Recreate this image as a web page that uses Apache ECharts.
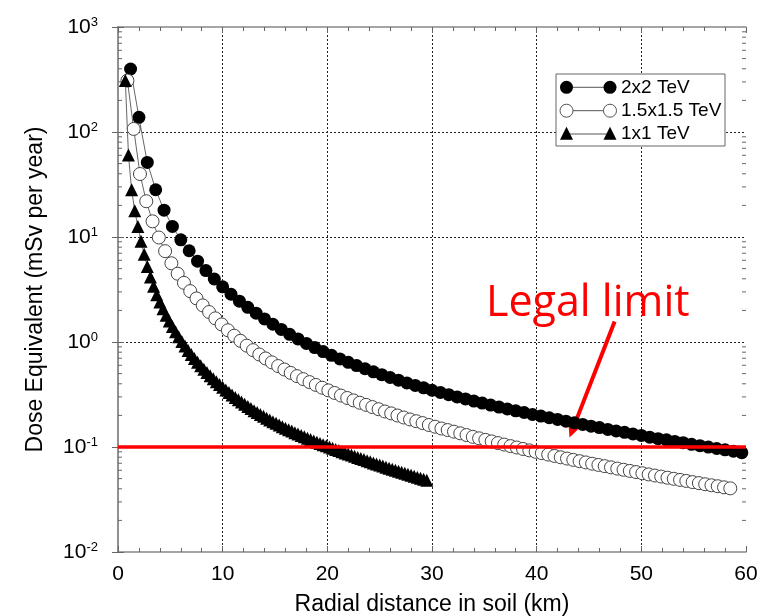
<!DOCTYPE html>
<html>
<head>
<meta charset="utf-8">
<script src="https://cdn.jsdelivr.net/npm/echarts@6.0.0/dist/echarts.min.js"></script>
<style>
  html, body { margin: 0; padding: 0; background: #fff; }
  #chart { width: 769px; height: 616px; }
</style>
</head>
<body>
<div id="chart"></div>
<script>
// ---------------- data ----------------
const seriesNames = ['2x2 TeV', '1.5x1.5 TeV', '1x1 TeV'];

const xs2 = [1.2, 2.0, 2.8, 3.6, 4.4, 5.2, 6.0, 6.8, 7.6, 8.4, 9.2, 10.0, 10.8, 11.6, 12.4, 13.2, 14.0, 14.8, 15.6, 16.4,
  17.2, 18.0, 18.8, 19.6, 20.4, 21.2, 22.0, 22.8, 23.6, 24.4, 25.2, 26.0, 26.8, 27.6, 28.4, 29.2, 30.0, 30.8, 31.6, 32.4,
  33.2, 34.0, 34.8, 35.6, 36.4, 37.2, 38.0, 38.8, 39.6, 40.4, 41.2, 42.0, 42.8, 43.6, 44.4, 45.2, 46.0, 46.8, 47.6, 48.4,
  49.2, 50.0, 50.8, 51.6, 52.4, 53.2, 54.0, 54.8, 55.6, 56.4, 57.2, 58.0, 58.8, 59.6];
const dose2 = [398, 138, 51.3, 28.2, 18.0, 12.6, 9.40, 7.40, 5.89, 4.79, 3.98, 3.35, 2.85, 2.45, 2.14, 1.88, 1.66, 1.475, 1.318, 1.183,
  1.069, 0.970, 0.885, 0.811, 0.746, 0.690, 0.640, 0.596, 0.556, 0.520, 0.488, 0.459, 0.433, 0.408, 0.386, 0.366, 0.347, 0.331, 0.315, 0.300,
  0.287, 0.274, 0.262, 0.251, 0.240, 0.230, 0.221, 0.213, 0.204, 0.197, 0.190, 0.183, 0.176, 0.170, 0.164, 0.158, 0.153, 0.147, 0.142, 0.138,
  0.133, 0.129, 0.124, 0.120, 0.117, 0.113, 0.110, 0.106, 0.103, 0.0998, 0.0968, 0.0939, 0.0911, 0.0883];

const xs15 = [0.9, 1.5, 2.1, 2.7, 3.3, 3.9, 4.5, 5.1, 5.7, 6.3, 6.9, 7.5, 8.1, 8.7, 9.3, 9.9, 10.5, 11.1, 11.7, 12.3,
  12.9, 13.5, 14.1, 14.7, 15.3, 15.9, 16.5, 17.1, 17.7, 18.3, 18.9, 19.5, 20.1, 20.7, 21.3, 21.9, 22.5, 23.1, 23.7, 24.3,
  24.9, 25.5, 26.1, 26.7, 27.3, 27.9, 28.5, 29.1, 29.7, 30.3, 30.9, 31.5, 32.1, 32.7, 33.3, 33.9, 34.5, 35.1, 35.7, 36.3,
  36.9, 37.5, 38.1, 38.7, 39.3, 39.9, 40.5, 41.1, 41.7, 42.3, 42.9, 43.5, 44.1, 44.7, 45.3, 45.9, 46.5, 47.1, 47.7, 48.3,
  48.9, 49.5, 50.1, 50.7, 51.3, 51.9, 52.5, 53.1, 53.7, 54.3, 54.9, 55.5, 56.1, 56.7, 57.3, 57.9, 58.5];
const dose15 = [309, 107, 39.8, 21.9, 14.1, 9.89, 7.33, 5.62, 4.47, 3.66, 3.05, 2.60, 2.23, 1.93, 1.68, 1.47, 1.294, 1.148, 1.026, 0.923,
  0.836, 0.760, 0.697, 0.640, 0.590, 0.547, 0.508, 0.473, 0.443, 0.415, 0.390, 0.367, 0.346, 0.327, 0.309, 0.293, 0.278, 0.264, 0.252, 0.240,
  0.229, 0.218, 0.209, 0.1995, 0.191, 0.183, 0.176, 0.169, 0.162, 0.156, 0.150, 0.145, 0.140, 0.135, 0.130, 0.125, 0.121, 0.117, 0.113, 0.109,
  0.1055, 0.102, 0.0989, 0.0958, 0.0929, 0.0900, 0.0873, 0.0847, 0.0822, 0.0798, 0.0776, 0.0754, 0.0733, 0.0713, 0.0693, 0.0675, 0.0657, 0.0640, 0.0623, 0.0607,
  0.0592, 0.0577, 0.0562, 0.0548, 0.0535, 0.0523, 0.0510, 0.0498, 0.0486, 0.0475, 0.0463, 0.0453, 0.0442, 0.0432, 0.0423, 0.0413, 0.0404];

const xs1 = [0.7, 1.0, 1.3, 1.6, 1.9, 2.2, 2.5, 2.8, 3.1, 3.4, 3.7, 4.0, 4.3, 4.6, 4.9, 5.2, 5.5, 5.8, 6.1, 6.4,
  6.7, 7.0, 7.3, 7.6, 7.9, 8.2, 8.5, 8.8, 9.1, 9.4, 9.7, 10.0, 10.3, 10.6, 10.9, 11.2, 11.5, 11.8, 12.1, 12.4,
  12.7, 13.0, 13.3, 13.6, 13.9, 14.2, 14.5, 14.8, 15.1, 15.4, 15.7, 16.0, 16.3, 16.6, 16.9, 17.2, 17.5, 17.8, 18.1, 18.4,
  18.7, 19.0, 19.3, 19.6, 19.9, 20.2, 20.5, 20.8, 21.1, 21.4, 21.7, 22.0, 22.3, 22.6, 22.9, 23.2, 23.5, 23.8, 24.1, 24.4,
  24.7, 25.0, 25.3, 25.6, 25.9, 26.2, 26.5, 26.8, 27.1, 27.4, 27.7, 28.0, 28.3, 28.6, 28.9, 29.2, 29.5];
const dose1 = [309, 60.3, 28.2, 17.8, 12.6, 9.12, 6.84, 5.25, 4.17, 3.39, 2.82, 2.40, 2.07, 1.80, 1.585, 1.406, 1.253, 1.122, 1.012, 0.916,
  0.832, 0.760, 0.697, 0.641, 0.593, 0.550, 0.512, 0.476, 0.446, 0.418, 0.393, 0.370, 0.349, 0.330, 0.313, 0.296, 0.282, 0.268, 0.255, 0.243,
  0.232, 0.222, 0.213, 0.204, 0.196, 0.188, 0.181, 0.174, 0.168, 0.162, 0.156, 0.151, 0.146, 0.142, 0.137, 0.133, 0.129, 0.125, 0.121, 0.118,
  0.114, 0.111, 0.108, 0.105, 0.1026, 0.100, 0.0973, 0.0948, 0.0925, 0.0902, 0.0879, 0.0857, 0.0838, 0.0817, 0.0796, 0.0778, 0.0759, 0.0741, 0.0723, 0.0706,
  0.0690, 0.0675, 0.0658, 0.0643, 0.0628, 0.0614, 0.0601, 0.0587, 0.0574, 0.0561, 0.0550, 0.0537, 0.0526, 0.0514, 0.0504, 0.0492, 0.0482];

// legal limit line and arrow annotation (data coordinates)
const limitX = [0, 60];
const limitY = [0.1, 0.1];
const arrowFrom = [47.45, 1.57];
const arrowTo = [43.45, 0.148];

// axis ranges / ticks
const xMin = 0, xMax = 60, xStep = 10;
const yMin = 0.01, yMax = 1000;
const decades = [-2, -1, 0, 1, 2];
const minorMultipliers = [2, 3, 4, 5, 6, 7, 8, 9];

// ---------------- chart ----------------
const FONT = '"Liberation Sans", Arial, sans-serif';
const zip = (xs, ys) => xs.map((x, i) => [x, ys[i]]);

const minorVals = [];
decades.forEach(k => minorMultipliers.forEach(m => minorVals.push([0, m * Math.pow(10, k)])));

function renderMinor(params, api) {
  const cs = params.coordSys;
  const y = api.coord([0, api.value(1)])[1];
  const L = 4;
  const st = { stroke: '#666', lineWidth: 1 };
  return {
    type: 'group',
    children: [
      { type: 'line', shape: { x1: cs.x, y1: y, x2: cs.x + L, y2: y }, style: st },
      { type: 'line', shape: { x1: cs.x + cs.width, y1: y, x2: cs.x + cs.width - L, y2: y }, style: st }
    ]
  };
}

const frameLine = { show: true, lineStyle: { color: '#888', width: 1.5 } };
const gridDots = { show: true, showMinLine: false, showMaxLine: false, lineStyle: { color: '#222', width: 1, type: [2, 2] } };

const legendRows = [87.3, 110.7, 134];
const lx1 = 566.5, lx2 = 610;
function tri(cx, cy, s) {
  return [[cx - s / 2, cy + s * 0.45], [cx, cy - s * 0.55], [cx + s / 2, cy + s * 0.45]];
}
const legendGraphic = [
  { type: 'rect', shape: { x: 556, y: 74, width: 169, height: 72 }, style: { fill: '#fff', stroke: '#666', lineWidth: 1 }, z: 10 },
  { type: 'line', shape: { x1: lx1, y1: legendRows[0], x2: lx2, y2: legendRows[0] }, style: { stroke: '#555', lineWidth: 1 }, z: 11 },
  { type: 'circle', shape: { cx: lx1, cy: legendRows[0], r: 6.5 }, style: { fill: '#000' }, z: 12 },
  { type: 'circle', shape: { cx: lx2, cy: legendRows[0], r: 6.5 }, style: { fill: '#000' }, z: 12 },
  { type: 'line', shape: { x1: lx1, y1: legendRows[1], x2: lx2, y2: legendRows[1] }, style: { stroke: '#555', lineWidth: 1 }, z: 11 },
  { type: 'circle', shape: { cx: lx1, cy: legendRows[1], r: 6.5 }, style: { fill: '#fff', stroke: '#555', lineWidth: 1 }, z: 12 },
  { type: 'circle', shape: { cx: lx2, cy: legendRows[1], r: 6.5 }, style: { fill: '#fff', stroke: '#555', lineWidth: 1 }, z: 12 },
  { type: 'line', shape: { x1: lx1, y1: legendRows[2], x2: lx2, y2: legendRows[2] }, style: { stroke: '#555', lineWidth: 1 }, z: 11 },
  { type: 'polygon', shape: { points: tri(lx1, legendRows[2], 13) }, style: { fill: '#000' }, z: 12 },
  { type: 'polygon', shape: { points: tri(lx2, legendRows[2], 13) }, style: { fill: '#000' }, z: 12 }
];
seriesNames.forEach((n, i) => {
  legendGraphic.push({
    type: 'text', x: 621, y: legendRows[i], z: 12,
    style: { text: n, fill: '#000', fontSize: 19, fontFamily: FONT, verticalAlign: 'middle', align: 'left' }
  });
});
legendGraphic.push({
  type: 'text', x: 486, y: 304, z: 20,
  style: { text: 'Legal limit', fill: '#ff0000', fontSize: 43, fontFamily: '"Open Sans", "Noto Sans", sans-serif', verticalAlign: 'middle', align: 'left' }
});

const option = {
  animation: false,
  backgroundColor: '#fff',
  grid: { left: 118, right: 23, top: 27, bottom: 64, show: false, containLabel: false, outerBoundsMode: 'none' },
  xAxis: [
    {
      type: 'value', position: 'bottom', min: xMin, max: xMax, interval: xStep,
      axisLine: frameLine,
      axisTick: { show: true, inside: true, length: 6, lineStyle: { color: '#666' } },
      minorTick: { show: true, splitNumber: 5, length: 4, lineStyle: { color: '#666' } },
      axisLabel: { fontSize: 21, color: '#000', fontFamily: FONT, margin: 12 },
      splitLine: gridDots,
      name: 'Radial distance in soil (km)', nameLocation: 'middle', nameGap: 41,
      nameTextStyle: { fontSize: 23, color: '#000', fontFamily: FONT }
    },
    {
      type: 'value', position: 'top', min: xMin, max: xMax, interval: xStep,
      axisLine: frameLine,
      axisTick: { show: true, inside: true, length: 6, lineStyle: { color: '#666' } },
      minorTick: { show: true, splitNumber: 5, length: 4, lineStyle: { color: '#666' } },
      axisLabel: { show: false }, splitLine: { show: false }
    }
  ],
  yAxis: [
    {
      type: 'log', logBase: 10, min: yMin, max: yMax, splitNumber: 5, position: 'left',
      axisLine: frameLine,
      axisTick: { show: true, inside: true, length: 6, lineStyle: { color: '#666' } },
      axisLabel: {
        margin: 20, color: '#000',
        formatter: v => '{b|10}{s|' + Math.round(Math.log10(v)) + '}',
        rich: {
          b: { fontSize: 21, fontFamily: FONT, color: '#000', lineHeight: 22 },
          s: { fontSize: 13, fontFamily: FONT, color: '#000', verticalAlign: 'top', lineHeight: 13 }
        }
      },
      splitLine: gridDots,
      name: 'Dose Equivalent (mSv per year)', nameLocation: 'middle', nameGap: 71,
      nameTextStyle: { fontSize: 23, color: '#000', fontFamily: FONT }
    },
    {
      type: 'log', logBase: 10, min: yMin, max: yMax, splitNumber: 5, position: 'right',
      axisLine: frameLine,
      axisTick: { show: true, inside: true, length: 6, lineStyle: { color: '#666' } },
      axisLabel: { show: false }, splitLine: { show: false }
    }
  ],
  graphic: legendGraphic,
  series: [
    {
      type: 'custom', name: 'minorTicks', renderItem: renderMinor, data: minorVals,
      encode: { x: 0, y: 1 }, silent: true, z: 4
    },
    {
      type: 'line', name: seriesNames[0], data: zip(xs2, dose2),
      symbol: 'circle', symbolSize: 13, showAllSymbol: true, clip: false,
      itemStyle: { color: '#000', borderWidth: 0 },
      lineStyle: { color: '#666', width: 1 }, emphasis: { disabled: true }, z: 5
    },
    {
      type: 'line', name: seriesNames[1], data: zip(xs15, dose15),
      symbol: 'circle', symbolSize: 13, showAllSymbol: true, clip: false,
      itemStyle: { color: '#fff', borderColor: '#444', borderWidth: 1 },
      lineStyle: { color: '#666', width: 1 }, emphasis: { disabled: true }, z: 6
    },
    {
      type: 'line', name: seriesNames[2], data: zip(xs1, dose1),
      symbol: 'triangle', symbolSize: 13, showAllSymbol: true, clip: false,
      itemStyle: { color: '#000', borderWidth: 0 },
      lineStyle: { color: '#666', width: 1 }, emphasis: { disabled: true }, z: 7
    },
    {
      type: 'line', name: 'Legal limit', data: zip(limitX, limitY),
      symbol: 'none', clip: false, lineStyle: { color: '#ff0000', width: 3.5 },
      emphasis: { disabled: true }, z: 8,
      markLine: {
        silent: true, symbol: ['none', 'triangle'], symbolSize: [17, 18],
        label: { show: false },
        lineStyle: { color: '#ff0000', width: 4, type: 'solid' },
        data: [[{ coord: arrowFrom }, { coord: arrowTo }]]
      }
    }
  ]
};

const chart = echarts.init(document.getElementById('chart'), null, { renderer: 'canvas' });
chart.setOption(option);
</script>
</body>
</html>
